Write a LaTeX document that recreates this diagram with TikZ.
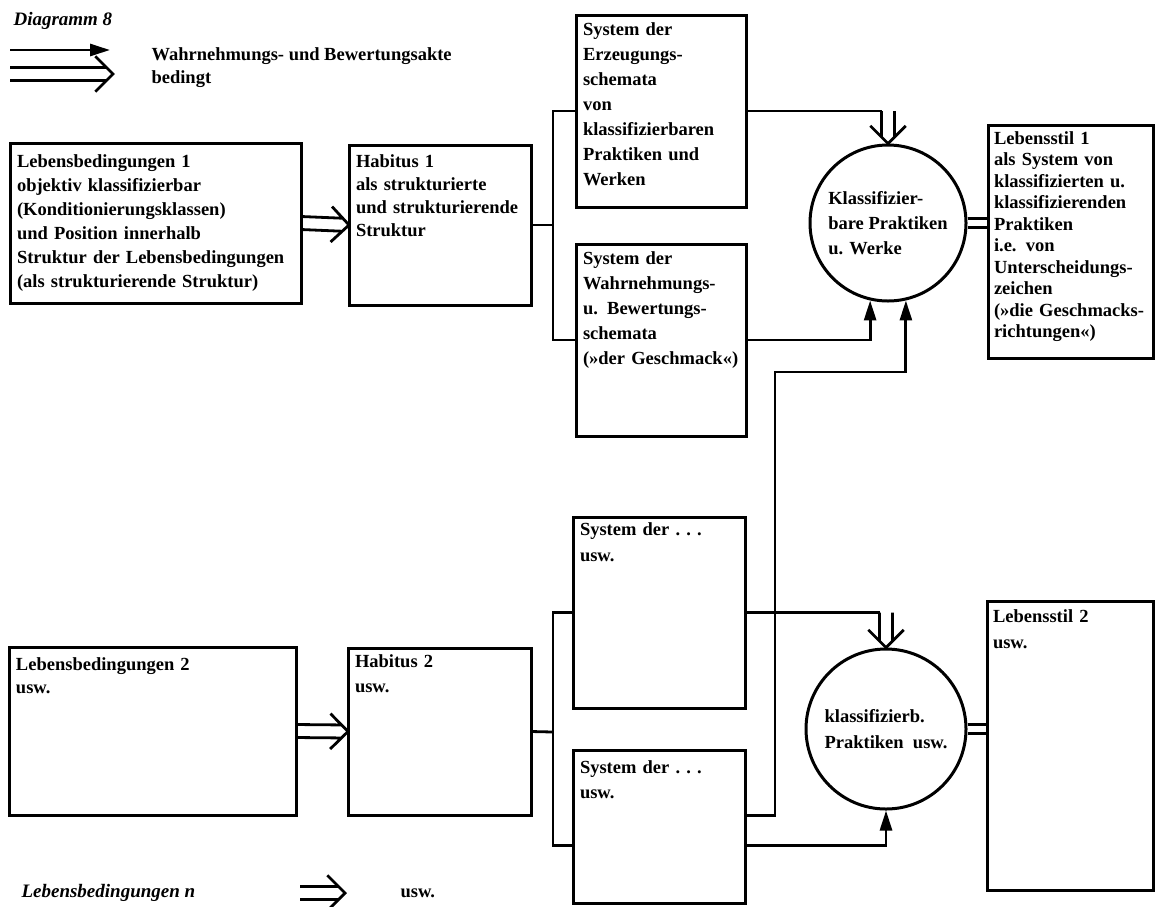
\documentclass[tikz,border=0pt]{standalone}
\usepackage{fontspec}
\setmainfont{Liberation Serif}
\usetikzlibrary{arrows.meta,calc,positioning}
\tikzset{
  zeilen/.style={font=\fontsize{18.5}{#1}\selectfont\bfseries},
  kasten/.style={draw, line width=3pt, anchor=north west, outer sep=0pt,
    inner xsep=7pt, inner ysep=7pt, align=left, text height=13pt},
  kreis/.style={draw, circle, line width=3pt, inner sep=0pt, align=left},
  linie/.style={line width=2.8pt},
  wb/.style={linie, -{Triangle[length=20pt,width=12pt]}},
  gleich/.style={linie, to path={
      ([yshift=4.5pt]\tikztostart) -- ([yshift=4.5pt]\tikztotarget)
      ([yshift=-4.5pt]\tikztostart) -- ([yshift=-4.5pt]\tikztotarget)}},
  bedingt/.style={linie, line join=miter, to path={
      let \p1=($(\tikztotarget)-(\tikztostart)$), \n1={atan2(\y1,\x1)} in
      ($(\tikztostart)+(\n1+90:6.5pt)$) -- ($(\tikztotarget)+(\n1+180:6.5pt)+(\n1+90:6.5pt)$)
      ($(\tikztostart)+(\n1-90:6.5pt)$) -- ($(\tikztotarget)+(\n1+180:6.5pt)+(\n1-90:6.5pt)$)
      ($(\tikztotarget)+(\n1+135:25pt)$) -- (\tikztotarget) -- ($(\tikztotarget)+(\n1-135:25pt)$)}}
}

\begin{document}
\begin{tikzpicture}[x=1pt, y=-1pt, zeilen=22]
	\useasboundingbox (0,0) rectangle (1155,906);

	% legend
	\node[anchor=base west, font=\fontsize{19}{22}\selectfont\bfseries\itshape] (titel) at (10,25) {Diagramm 8};
	\coordinate (la) at (10,50);
	\coordinate (lb) at (110,50);
	\coordinate (lc) at (10,74);
	\coordinate (ld) at (113,74);
	\draw[wb] (la) -- (lb);
	\draw[bedingt] (lc) to (ld);
	\node[anchor=base west] (lega) at (148,60) {Wahrnehmungs- und Bewertungsakte};
	\node[anchor=base west] (legb) at (148,83) {bedingt};

	% first row
	\node[kasten, zeilen=24, text width=277pt, text height=17pt, text depth=129pt] (L1) at (10,143)
		{Lebensbedingungen 1\\ objektiv klassifizierbar\\ (Konditionierungsklassen)\\ und Position innerhalb\\ Struktur der Lebensbedingungen\\ (als strukturierende Struktur)};
	\node[kasten, zeilen=23, text width=168pt, text height=15pt, text depth=131pt] (H1) at (349,145)
		{Habitus 1\\ als strukturierte\\ und strukturierende\\ Struktur};
	\node[kasten, zeilen=25, text width=156pt, text depth=165pt] (S1) at (576,15)
		{System der\\ Erzeugungs-\\ schemata\\ von\\ klassifizierbaren\\ Praktiken und\\ Werken};
	\node[kasten, zeilen=25, text width=156pt, text depth=165pt] (S2) at (576,244)
		{System der\\ Wahrnehmungs-\\ u. Bewertungs-\\ schemata\\ (»der Geschmack«)};
	\node[kreis, zeilen=25, minimum size=156pt] (C1) at (888,223)
		{Klassifizier-\\ bare Praktiken\\ u. Werke};
	\node[kasten, zeilen=21.5, inner xsep=6pt, text width=153pt, text height=12pt, text depth=207pt] (LS1) at (988,125)
		{Lebensstil 1\\ als System von\\ klassifizierten u.\\ klassifizierenden\\ Praktiken\\ i.e. von\\ Unterscheidungs-\\ zeichen\\ (»die Geschmacks-\\ richtungen«)};

	% second row
	\node[kasten, zeilen=23, text width=273pt, text height=16pt, text depth=138pt] (L2) at (9,647)
		{Lebensbedingungen 2\\ usw.};
	\node[kasten, zeilen=25, text width=169pt, text height=12pt, text depth=141pt] (H2) at (348,648)
		{Habitus 2\\ usw.};
	\node[kasten, zeilen=26, text width=158pt, text height=11pt, text depth=166pt] (S3) at (573,517)
		{System der .~.~.\\ usw.};
	\node[kasten, zeilen=25, text width=158pt, text height=16pt, text depth=123pt] (S4) at (573,750)
		{System der .~.~.\\ usw.};
	\node[kreis, zeilen=26, minimum size=160pt] (C2) at (886,729)
		{klassifizierb.\\ Praktiken~~usw.};
	\node[kasten, zeilen=26, inner xsep=6pt, text width=154pt, text height=14pt, text depth=261pt] (LS2) at (987,601)
		{Lebensstil 2\\ usw.};

	% last line
	\node[anchor=base west, font=\fontsize{19}{22}\selectfont\bfseries\itshape] (ln) at (18,897) {Lebensbedingungen n};
	\coordinate (bn1) at (300,893);
	\coordinate (bn2) at (345,893);
	\draw[bedingt] (bn1) to (bn2);
	\node[anchor=base west] (usw) at (397,897) {usw.};

	% conditions -> habitus
	\draw[bedingt] (L1.east) to (H1.west);
	\draw[bedingt] (L2.east) to (H2.west);

	% habitus -> schemata
	\coordinate (brk1) at (553,225);
	\coordinate (brk2) at (553,732);
	\draw[linie] (H1.east) -- (brk1);
	\draw[linie] (S1.west) -| (brk1) |- (S2.west);
	\draw[linie] (H2.east) -- (brk2);
	\draw[linie] (S3.west) -| (brk2) |- ([yshift=-19pt]S4.west);

	% schemata -> practices
	\coordinate (o1) at (S1.east -| C1.north);
	\coordinate (o2) at (S3.east -| C2.north);
	\coordinate (knick) at (775,372);
	\draw[linie] (S1.east) -- ([xshift=-6.5pt]o1);
	\draw[bedingt] (o1) to (C1.north);
	\draw[wb] (S2.east) -| (C1.-103);
	\draw[wb] ([yshift=11pt]S4.east) -| (knick) -| (C1.-77);
	\draw[linie] (S3.east) -- ([xshift=-6.5pt]o2);
	\draw[bedingt] (o2) to (C2.north);
	\draw[wb] ([yshift=-19pt]S4.east) -| (C2.south);

	% practices = life style
	\coordinate (g1) at (C1.east -| LS1.west);
	\coordinate (g2) at (C2.east -| LS2.west);
	\draw[gleich] (C1.east) to (g1);
	\draw[gleich] (C2.east) to (g2);

\end{tikzpicture}
\end{document}
